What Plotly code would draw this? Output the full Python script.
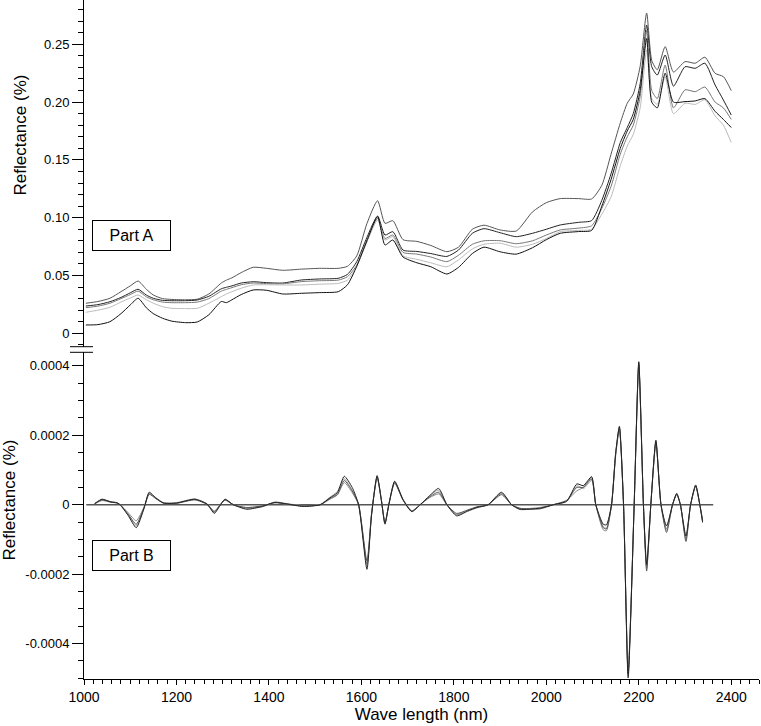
import plotly.graph_objects as go

# Part A: reflectance spectra (five samples)
wavelength_a = [1004, 1030, 1056, 1080, 1100, 1117, 1135, 1150, 1170, 1190,
                1220, 1245, 1270, 1297, 1308, 1320, 1340, 1366, 1395, 1430,
                1470, 1510, 1550, 1570, 1590, 1612, 1635, 1651, 1668, 1690,
                1720, 1750, 1785, 1810, 1840, 1865, 1900, 1935, 1970, 2000,
                2030, 2070, 2098, 2120, 2140, 2160, 2175, 2188, 2203, 2217,
                2228, 2240, 2257, 2275, 2300, 2322, 2343, 2365, 2383, 2400]

spectrum_1 = [0.0260, 0.0275, 0.0303, 0.0360, 0.0410, 0.0452, 0.0380, 0.0331, 0.0300, 0.0293,
              0.0290, 0.0295, 0.0340, 0.0435, 0.0460, 0.0480, 0.0525, 0.0571, 0.0562, 0.0545,
              0.0555, 0.0562, 0.0562, 0.0580, 0.0670, 0.0950, 0.1147, 0.0951, 0.0974, 0.0810,
              0.0795, 0.0760, 0.0706, 0.0745, 0.0900, 0.0935, 0.0894, 0.0885, 0.1050, 0.1130,
              0.1165, 0.1165, 0.1162, 0.1280, 0.1550, 0.1820, 0.1990, 0.2070, 0.2310, 0.2770,
              0.2360, 0.2280, 0.2480, 0.2260, 0.2350, 0.2336, 0.2388, 0.2249, 0.2220, 0.2099]
spectrum_2 = [0.0236, 0.0248, 0.0273, 0.0310, 0.0350, 0.0381, 0.0330, 0.0303, 0.0285, 0.0282,
              0.0282, 0.0288, 0.0320, 0.0385, 0.0398, 0.0410, 0.0435, 0.0446, 0.0438, 0.0435,
              0.0461, 0.0470, 0.0476, 0.0510, 0.0620, 0.0830, 0.1015, 0.0850, 0.0879, 0.0720,
              0.0708, 0.0690, 0.0665, 0.0720, 0.0865, 0.0905, 0.0870, 0.0836, 0.0865, 0.0900,
              0.0937, 0.0960, 0.0975, 0.1150, 0.1380, 0.1650, 0.1780, 0.1900, 0.2160, 0.2667,
              0.2306, 0.2234, 0.2407, 0.2138, 0.2306, 0.2292, 0.2336, 0.2148, 0.2018, 0.1888]
spectrum_3 = [0.0222, 0.0235, 0.0260, 0.0300, 0.0335, 0.0365, 0.0315, 0.0290, 0.0270, 0.0265,
              0.0265, 0.0270, 0.0300, 0.0365, 0.0380, 0.0395, 0.0420, 0.0435, 0.0430, 0.0428,
              0.0447, 0.0455, 0.0460, 0.0490, 0.0590, 0.0810, 0.0995, 0.0820, 0.0850, 0.0700,
              0.0685, 0.0660, 0.0620, 0.0675, 0.0770, 0.0800, 0.0801, 0.0775, 0.0800, 0.0850,
              0.0894, 0.0910, 0.0930, 0.1080, 0.1270, 0.1550, 0.1700, 0.1800, 0.2050, 0.2620,
              0.2100, 0.2030, 0.2320, 0.1950, 0.2106, 0.2090, 0.2130, 0.2000, 0.1950, 0.1850]
spectrum_4 = [0.0182, 0.0200, 0.0225, 0.0270, 0.0305, 0.0331, 0.0290, 0.0260, 0.0230, 0.0216,
              0.0214, 0.0216, 0.0260, 0.0317, 0.0340, 0.0360, 0.0390, 0.0418, 0.0420, 0.0418,
              0.0418, 0.0425, 0.0432, 0.0460, 0.0580, 0.0790, 0.0980, 0.0807, 0.0836, 0.0670,
              0.0640, 0.0610, 0.0576, 0.0635, 0.0730, 0.0770, 0.0779, 0.0745, 0.0770, 0.0820,
              0.0879, 0.0890, 0.0900, 0.1030, 0.1180, 0.1450, 0.1620, 0.1720, 0.1950, 0.2450,
              0.2030, 0.1980, 0.2220, 0.1900, 0.1990, 0.1980, 0.2020, 0.1880, 0.1800, 0.1650]
spectrum_5 = [0.0072, 0.0075, 0.0100, 0.0170, 0.0245, 0.0303, 0.0220, 0.0170, 0.0130, 0.0105,
              0.0092, 0.0098, 0.0160, 0.0275, 0.0265, 0.0290, 0.0335, 0.0375, 0.0372, 0.0340,
              0.0346, 0.0352, 0.0360, 0.0420, 0.0580, 0.0800, 0.1009, 0.0764, 0.0807, 0.0660,
              0.0610, 0.0576, 0.0513, 0.0570, 0.0690, 0.0745, 0.0705, 0.0685, 0.0740, 0.0810,
              0.0865, 0.0880, 0.0890, 0.1100, 0.1330, 0.1600, 0.1750, 0.1850, 0.2100, 0.2550,
              0.2000, 0.1950, 0.2250, 0.2000, 0.2004, 0.2010, 0.2030, 0.1920, 0.1850, 0.1780]

# Part B: second derivative spectra
wavelength_b = [1023, 1039, 1058, 1071, 1078, 1095, 1113, 1130, 1141, 1155,
                1172, 1200, 1240, 1266, 1282, 1293, 1305, 1323, 1352, 1386,
                1413, 1440, 1474, 1511, 1532, 1548, 1563, 1580, 1594, 1612,
                1622, 1634, 1643, 1651, 1660, 1672, 1690, 1709, 1727, 1747,
                1767, 1785, 1806, 1830, 1850, 1874, 1903, 1925, 1943, 1986,
                2015, 2044, 2066, 2080, 2098, 2107, 2123, 2130, 2141, 2150,
                2158, 2167, 2177, 2190, 2200, 2210, 2217, 2226, 2237, 2248,
                2260, 2273, 2282, 2290, 2302, 2312, 2323, 2332, 2338]

deriv_1 = [0.3e-5, 1.6e-5, 0.8e-5, 0.6e-5, 0.0, -3.0e-5, -6.6e-5, -1.0e-5, 3.6e-5, 2.0e-5,
           0.5e-5, 0.5e-5, 1.6e-5, 0.2e-5, -2.5e-5, -0.5e-5, 1.6e-5, 0.0, -1.3e-5, -0.5e-5,
           0.7e-5, 0.2e-5, -0.5e-5, 0.0, 2.0e-5, 3.5e-5, 8.2e-5, 5.0e-5, 0.0, -18.6e-5,
           -3.0e-5, 8.4e-5, 1.5e-5, -5.6e-5, 0.5e-5, 6.8e-5, 1.5e-5, -2.0e-5, 0.0, 2.5e-5,
           4.7e-5, 0.0, -3.2e-5, -1.8e-5, -0.8e-5, 0.0, 3.6e-5, 0.0, -1.3e-5, -1.0e-5,
           0.0, 1.0e-5, 6.0e-5, 5.5e-5, 8.1e-5, 0.0, -5.6e-5, -5.8e-5, 0.0, 15.0e-5,
           22.6e-5, 0.0, -49.9e-5, 0.0, 41.2e-5, 0.0, -17.2e-5, 0.0, 18.6e-5, 0.0,
           -6.1e-5, 0.0, 3.3e-5, 0.0, -9.0e-5, 0.0, 5.7e-5, 0.0, -5.1e-5]
deriv_2 = [0.3e-5, 1.4e-5, 0.8e-5, 0.5e-5, 0.0, -2.6e-5, -5.6e-5, -0.8e-5, 3.0e-5, 1.8e-5,
           0.5e-5, 0.4e-5, 1.4e-5, 0.1e-5, -2.0e-5, -0.3e-5, 1.4e-5, 0.0, -0.8e-5, -0.3e-5,
           0.6e-5, 0.2e-5, -0.3e-5, 0.0, 1.8e-5, 3.0e-5, 7.0e-5, 4.0e-5, 0.0, -16.2e-5,
           -2.5e-5, 8.0e-5, 1.5e-5, -5.2e-5, 0.5e-5, 6.4e-5, 1.4e-5, -1.8e-5, 0.0, 2.2e-5,
           3.6e-5, 0.0, -2.5e-5, -1.5e-5, -0.6e-5, 0.0, 2.9e-5, 0.0, -1.0e-5, -1.2e-5,
           0.0, 1.2e-5, 5.0e-5, 5.0e-5, 7.4e-5, 0.0, -6.6e-5, -7.0e-5, 0.0, 14.5e-5,
           22.0e-5, 0.0, -48.5e-5, 0.0, 40.5e-5, 0.0, -19.1e-5, 0.0, 18.0e-5, 0.0,
           -8.0e-5, 0.0, 3.0e-5, 0.0, -10.6e-5, 0.0, 5.4e-5, 0.0, -4.5e-5]
deriv_3 = [0.2e-5, 1.2e-5, 0.7e-5, 0.5e-5, 0.0, -2.2e-5, -4.6e-5, -0.6e-5, 3.2e-5, 1.9e-5,
           0.4e-5, 0.5e-5, 1.5e-5, 0.2e-5, -2.2e-5, -0.4e-5, 1.5e-5, 0.0, -1.0e-5, -0.4e-5,
           0.6e-5, 0.1e-5, -0.4e-5, 0.0, 1.6e-5, 2.8e-5, 6.4e-5, 3.5e-5, 0.0, -17.0e-5,
           -2.8e-5, 7.8e-5, 1.4e-5, -5.0e-5, 0.4e-5, 6.2e-5, 1.3e-5, -1.9e-5, 0.0, 2.0e-5,
           3.1e-5, 0.0, -2.8e-5, -1.6e-5, -0.7e-5, 0.0, 3.2e-5, 0.0, -1.1e-5, -0.8e-5,
           0.0, 1.3e-5, 4.0e-5, 5.0e-5, 7.8e-5, 0.0, -7.2e-5, -7.5e-5, 0.0, 14.8e-5,
           22.3e-5, 0.0, -49.0e-5, 0.0, 40.8e-5, 0.0, -18.0e-5, 0.0, 18.3e-5, 0.0,
           -7.0e-5, 0.0, 3.1e-5, 0.0, -10.0e-5, 0.0, 5.5e-5, 0.0, -4.8e-5]
deriv_4 = [0.4e-5, 1.5e-5, 0.9e-5, 0.6e-5, 0.0, -2.8e-5, -6.0e-5, -0.9e-5, 3.4e-5, 2.1e-5,
           0.6e-5, 0.6e-5, 1.7e-5, 0.3e-5, -1.8e-5, -0.2e-5, 1.3e-5, 0.0, -0.9e-5, -0.6e-5,
           0.8e-5, 0.3e-5, -0.2e-5, 0.1e-5, 2.2e-5, 3.8e-5, 7.5e-5, 4.2e-5, 0.0, -17.5e-5,
           -2.6e-5, 8.2e-5, 1.6e-5, -5.4e-5, 0.6e-5, 6.6e-5, 1.6e-5, -1.7e-5, 0.0, 2.6e-5,
           4.2e-5, 0.0, -2.9e-5, -1.9e-5, -0.9e-5, 0.0, 3.4e-5, 0.0, -1.4e-5, -0.9e-5,
           0.0, 0.9e-5, 5.5e-5, 4.6e-5, 7.0e-5, 0.0, -6.2e-5, -6.8e-5, 0.0, 14.0e-5,
           21.8e-5, 0.0, -48.0e-5, 0.0, 40.0e-5, 0.0, -18.5e-5, 0.0, 17.8e-5, 0.0,
           -7.5e-5, 0.0, 2.9e-5, 0.0, -9.6e-5, 0.0, 5.3e-5, 0.0, -4.6e-5]

baseline_x = [1005, 2361]
baseline_y = [0, 0]

x_tick_vals = [1000, 1200, 1400, 1600, 1800, 2000, 2200, 2400]
x_tick_text = ['1000', '1200', '1400', '1600', '1800', '2000', '2200', '2400']
a_tick_vals = [0, 0.05, 0.10, 0.15, 0.20, 0.25]
a_tick_text = ['0', '0.05', '0.10', '0.15', '0.20', '0.25']
b_tick_vals = [-0.0004, -0.0002, 0, 0.0002, 0.0004]
b_tick_text = ['-0.0004', '-0.0002', '0', '0.0002', '0.0004']

FONT = 'Liberation Sans, Arial, sans-serif'
H_PLOT = 679  # plot area height in px
W_PLOT = 675  # plot area width in px

fig = go.Figure()

a_colors = ['#555555', '#222222', '#777777', '#bbbbbb', '#111111']
for ys, col in zip([spectrum_1, spectrum_2, spectrum_3, spectrum_4, spectrum_5], a_colors):
    fig.add_trace(go.Scatter(
        x=wavelength_a, y=ys, mode='lines', xaxis='x', yaxis='y2',
        line=dict(color=col, width=1, shape='spline', smoothing=0.6),
        hoverinfo='skip', showlegend=False
    ))

fig.add_trace(go.Scatter(
    x=baseline_x, y=baseline_y, mode='lines', xaxis='x', yaxis='y',
    line=dict(color='#555555', width=1.5), hoverinfo='skip', showlegend=False
))

b_colors = ['#aaaaaa', '#888888', '#555555', '#222222']
for ys, col in zip([deriv_4, deriv_3, deriv_2, deriv_1], b_colors):
    fig.add_trace(go.Scatter(
        x=wavelength_b, y=ys, mode='lines', xaxis='x', yaxis='y',
        line=dict(color=col, width=1, shape='spline', smoothing=0.6),
        hoverinfo='skip', showlegend=False
    ))

axis_common = dict(showline=True, linecolor='black', linewidth=1, ticks='outside',
                   tickcolor='black', showgrid=False, zeroline=False, automargin=False)

fig.update_layout(
    template='none',
    width=761, height=726,
    margin=dict(l=84, r=2, t=0, b=47, autoexpand=False),
    paper_bgcolor='white', plot_bgcolor='white',
    font=dict(family=FONT, color='black'),
    xaxis=dict(
        axis_common, range=[1000, 2460], anchor='y',
        tickmode='array', tickvals=x_tick_vals, ticktext=x_tick_text, ticklen=5,
        tickfont=dict(size=14),
        minor=dict(tickmode='linear', tick0=1000, dtick=20, ticks='outside', ticklen=4, tickcolor='black'),
        title=dict(text='Wave length (nm)', font=dict(size=17), standoff=4)
    ),
    yaxis=dict(
        axis_common, domain=[0, (H_PLOT - 352) / H_PLOT], range=[-0.000502, 0.00044],
        anchor='x', tickmode='array', tickvals=b_tick_vals, ticktext=b_tick_text, ticklen=11,
        tickfont=dict(size=13),
        minor=dict(tickmode='linear', tick0=0, dtick=0.00005, ticks='outside', ticklen=5, tickcolor='black')
    ),
    yaxis2=dict(
        axis_common, domain=[(H_PLOT - 347) / H_PLOT, 1], range=[-0.01185, 0.2883],
        anchor='x', tickmode='array', tickvals=a_tick_vals, ticktext=a_tick_text, ticklen=11,
        tickfont=dict(size=13),
        minor=dict(tickmode='linear', tick0=0, dtick=0.01, ticks='outside', ticklen=5, tickcolor='black')
    ),
)

# y axis titles
for ypix, xshift in [(135, -63.5), (500, -75.5)]:
    fig.add_annotation(text='Reflectance (%)', xref='paper', yref='paper', x=0,
                       y=(H_PLOT - ypix) / H_PLOT, xshift=xshift, textangle=-90,
                       xanchor='center', yanchor='middle',
                       showarrow=False, font=dict(size=17))

# Part labels
for label, ypix in [('Part A', 235.5), ('Part B', 555.5)]:
    fig.add_annotation(text=label, xref='paper', yref='paper', x=0, xshift=47.5,
                       y=(H_PLOT - ypix) / H_PLOT, showarrow=False,
                       xanchor='center', yanchor='middle',
                       font=dict(size=16), width=75, height=27,
                       bordercolor='black', borderwidth=1, borderpad=1, bgcolor='white')

# axis break marks
for ypix in [346.7, 352.3]:
    fig.add_shape(type='line', xref='paper', yref='paper',
                  x0=(70 - 84) / W_PLOT, x1=(93 - 84) / W_PLOT,
                  y0=(H_PLOT - ypix) / H_PLOT, y1=(H_PLOT - ypix) / H_PLOT,
                  line=dict(color='black', width=1))

# drop the default page margin so the figure sits at the window's corner
fig.write_html("out.html", config={'displayModeBar': False},
               post_script="document.body.style.margin='0';")
